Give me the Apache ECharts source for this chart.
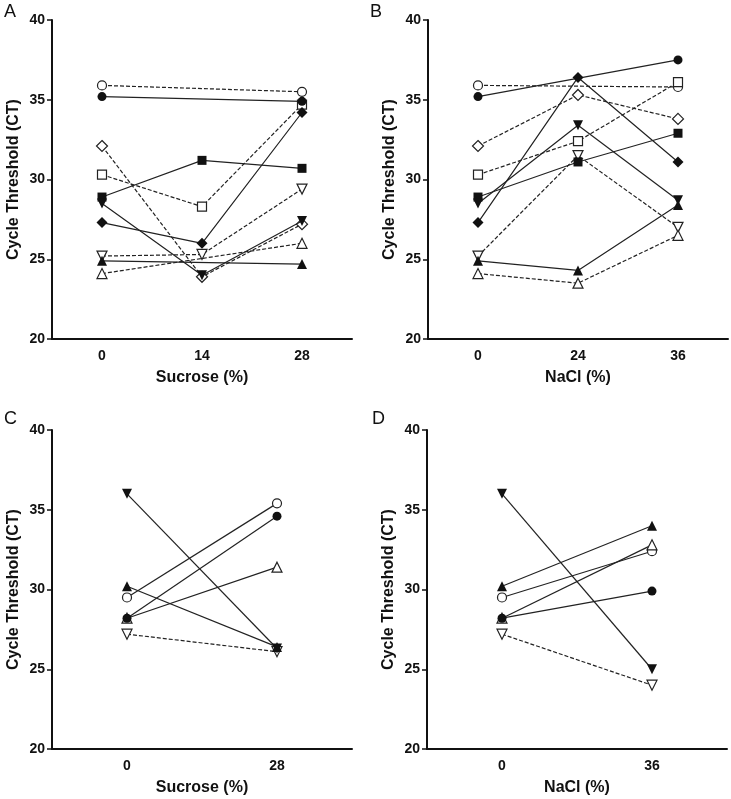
<!DOCTYPE html>
<html>
<head>
<meta charset="utf-8">
<script src="https://cdn.jsdelivr.net/npm/echarts@6/dist/echarts.min.js"></script>
<style>html,body{margin:0;padding:0;background:#fff;}#c{width:731px;height:799px;}</style>
</head>
<body>
<div id="c"></div>
<script>
// Categories
const catA = ['0', '14', '28'];
const catB = ['0', '24', '36'];
const catC = ['0', '28'];
const catD = ['0', '36'];
const yTicks = [20, 25, 30, 35, 40];

// Panel A (Sucrose 0/14/28)
const A_openCircle   = [35.9, null, 35.5];
const A_fillCircle   = [35.2, null, 34.9];
const A_fillSquare   = [28.9, 31.2, 30.7];
const A_openSquare   = [30.3, 28.3, 34.7];
const A_fillDiamond  = [27.3, 26.0, 34.2];
const A_openDiamond  = [32.1, 23.9, 27.2];
const A_fillDownTri  = [28.5, 24.0, 27.4];
const A_openDownTri  = [25.2, 25.3, 29.4];
const A_fillUpTri    = [24.9, null, 24.7];
const A_openUpTri    = [24.1, null, 26.0];

// Panel B (NaCl 0/24/36)
const B_openCircle   = [35.9, null, 35.8];
const B_fillCircle   = [35.2, null, 37.5];
const B_fillSquare   = [28.9, 31.1, 32.9];
const B_openSquare   = [30.3, 32.4, 36.1];
const B_fillDiamond  = [27.3, 36.4, 31.1];
const B_openDiamond  = [32.1, 35.3, 33.8];
const B_fillDownTri  = [28.5, 33.4, 28.7];
const B_openDownTri  = [25.2, 31.5, 27.0];
const B_fillUpTri    = [24.9, 24.3, 28.4];
const B_openUpTri    = [24.1, 23.5, 26.5];

// Panel C (Sucrose 0/28)
const C_fillDownTri  = [36.0, 26.3];
const C_openCircle   = [29.5, 35.4];
const C_fillCircle   = [28.2, 34.6];
const C_openUpTri    = [28.2, 31.4];
const C_fillUpTri    = [30.2, 26.4];
const C_openDownTri  = [27.2, 26.1];

// Panel D (NaCl 0/36)
const D_fillDownTri  = [36.0, 25.0];
const D_fillUpTri    = [30.2, 34.0];
const D_openCircle   = [29.5, 32.4];
const D_openUpTri    = [28.2, 32.8];
const D_fillCircle   = [28.2, 29.9];
const D_openDownTri  = [27.2, 24.0];

const FONT = '"Liberation Sans", Arial, sans-serif';
const grids = [
  {left: 52, top: 20, width: 300, height: 319},
  {left: 428, top: 20, width: 300, height: 319},
  {left: 52, top: 430, width: 300, height: 319},
  {left: 427, top: 430, width: 300, height: 319}
];
const xNames = ['Sucrose (%)', 'NaCl (%)', 'Sucrose (%)', 'NaCl (%)'];
const cats = [catA, catB, catC, catD];

const xAxes = cats.map((c, i) => ({
  type: 'category', gridIndex: i, data: c, boundaryGap: true,
  name: xNames[i], nameLocation: 'middle', nameGap: 31,
  nameTextStyle: {fontFamily: FONT, fontWeight: 'bold', fontSize: 16, color: '#111'},
  axisLine: {lineStyle: {color: '#111', width: 2}},
  axisTick: {alignWithLabel: true, length: 5, lineStyle: {color: '#111', width: 1.5}},
  axisLabel: {fontFamily: FONT, fontWeight: 'bold', fontSize: 14, color: '#111', margin: 10},
  splitLine: {show: false}
}));
const yAxes = cats.map((c, i) => ({
  type: 'value', gridIndex: i, min: yTicks[0], max: yTicks[yTicks.length - 1], interval: 5,
  name: 'Cycle Threshold (CT)', nameLocation: 'middle', nameGap: 30,
  nameTextStyle: {fontFamily: FONT, fontWeight: 'bold', fontSize: 16, color: '#111'},
  axisLine: {show: true, lineStyle: {color: '#111', width: 2}},
  axisTick: {show: true, length: 5, lineStyle: {color: '#111', width: 1.5}},
  axisLabel: {fontFamily: FONT, fontWeight: 'bold', fontSize: 14, color: '#111', margin: 7},
  splitLine: {show: false}
}));

const shapes = {
  circle: {symbol: 'circle', rot: 0, size: 9},
  square: {symbol: 'rect', rot: 0, size: 9},
  diamond: {symbol: 'diamond', rot: 0, size: 11},
  up: {symbol: 'triangle', rot: 0, size: 10},
  down: {symbol: 'triangle', rot: 180, size: 10}
};
function mk(gi, data, shape, filled, dashed) {
  const s = shapes[shape];
  return {
    type: 'line', xAxisIndex: gi, yAxisIndex: gi, data: data, connectNulls: true,
    symbol: s.symbol, symbolRotate: s.rot, symbolSize: s.size, showAllSymbol: true,
    lineStyle: {color: '#222', width: 1.2, type: dashed ? [4, 2] : 'solid'},
    itemStyle: {color: filled ? '#111' : '#fff', borderColor: '#222', borderWidth: filled ? 0 : 1.2},
    emphasis: {disabled: true}, animation: false, silent: true, z: filled ? 3 : 2
  };
}

const series = [
  mk(0, A_openCircle, 'circle', false, true),
  mk(0, A_fillCircle, 'circle', true, false),
  mk(0, A_fillSquare, 'square', true, false),
  mk(0, A_openSquare, 'square', false, true),
  mk(0, A_fillDiamond, 'diamond', true, false),
  mk(0, A_openDiamond, 'diamond', false, true),
  mk(0, A_fillDownTri, 'down', true, false),
  mk(0, A_openDownTri, 'down', false, true),
  mk(0, A_fillUpTri, 'up', true, false),
  mk(0, A_openUpTri, 'up', false, true),

  mk(1, B_openCircle, 'circle', false, true),
  mk(1, B_fillCircle, 'circle', true, false),
  mk(1, B_fillSquare, 'square', true, false),
  mk(1, B_openSquare, 'square', false, true),
  mk(1, B_fillDiamond, 'diamond', true, false),
  mk(1, B_openDiamond, 'diamond', false, true),
  mk(1, B_fillDownTri, 'down', true, false),
  mk(1, B_openDownTri, 'down', false, true),
  mk(1, B_fillUpTri, 'up', true, false),
  mk(1, B_openUpTri, 'up', false, true),

  mk(2, C_fillDownTri, 'down', true, false),
  mk(2, C_openCircle, 'circle', false, false),
  mk(2, C_openUpTri, 'up', false, false),
  mk(2, C_fillCircle, 'circle', true, false),
  mk(2, C_fillUpTri, 'up', true, false),
  mk(2, C_openDownTri, 'down', false, true),

  mk(3, D_fillDownTri, 'down', true, false),
  mk(3, D_fillUpTri, 'up', true, false),
  mk(3, D_openCircle, 'circle', false, false),
  mk(3, D_openUpTri, 'up', false, false),
  mk(3, D_fillCircle, 'circle', true, false),
  mk(3, D_openDownTri, 'down', false, true)
];

const letters = [['A', 4, 3], ['B', 370, 3], ['C', 4, 410], ['D', 372, 410]];
const graphic = letters.map(l => ({
  type: 'text', left: l[1], top: l[2],
  style: {text: l[0], fontFamily: FONT, fontSize: 18, fill: '#111'}
}));

const chart = echarts.init(document.getElementById('c'), null, {renderer: 'canvas'});
chart.setOption({
  animation: false,
  backgroundColor: '#fff',
  grid: grids,
  xAxis: xAxes,
  yAxis: yAxes,
  series: series,
  graphic: graphic
});
</script>
</body>
</html>
